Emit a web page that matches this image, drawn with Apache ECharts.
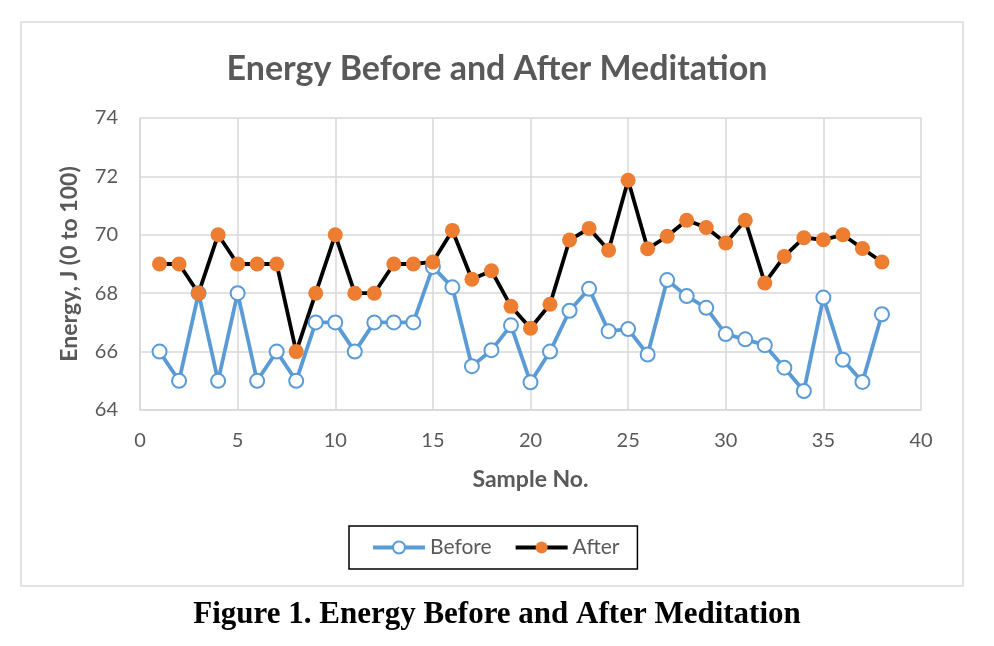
<!DOCTYPE html>
<html>
<head>
<meta charset="utf-8">
<script src="https://cdn.jsdelivr.net/npm/echarts@6/dist/echarts.min.js"></script>
<style>
html,body{margin:0;padding:0;background:#fff;}
#chart{width:994px;height:646px;}
</style>
</head>
<body>
<div id="chart"></div>
<script>
const samples = [1,2,3,4,5,6,7,8,9,10,11,12,13,14,15,16,17,18,19,20,21,22,23,24,25,26,27,28,29,30,31,32,33,34,35,36,37,38];
const before = [66,65,68,65,68,65,66,65,67,67,66,67,67,67,68.9,68.2,65.5,66.05,66.9,64.95,66.0,67.4,68.15,66.7,66.77,65.9,68.45,67.9,67.5,66.6,66.42,66.22,65.45,64.65,67.85,65.72,64.96,67.28];
const after = [69,69,68,70,69,69,69,66,68,70,68,68,69,69,69.07,70.15,68.48,68.77,67.55,66.8,67.62,69.82,70.22,69.47,71.87,69.52,69.95,70.5,70.25,69.72,70.5,68.35,69.26,69.9,69.83,70.0,69.53,69.07];
const xTicks = {min:0, max:40, interval:5};
const yTicks = {min:64, max:74, interval:2};

const pair = (xs, ys) => xs.map((x, i) => [x, ys[i]]);
const font = 'Lato, "Open Sans", sans-serif';
const chart = echarts.init(document.getElementById('chart'), null, {renderer:'canvas'});
chart.setOption({
  animation:false,
  backgroundColor:'#fff',
  graphic:[{type:'rect', shape:{x:21, y:22, width:942, height:564}, style:{fill:'none', stroke:'#d9d9d9', lineWidth:1.5}, z:-1}],
  title:[
    {text:'Energy Before and After Meditation', left:'center', top:47,
     textStyle:{fontFamily:font, fontSize:34, fontWeight:'bold', color:'#595959'}},
    {text:'Figure 1. Energy Before and After Meditation', left:'center', top:594,
     textStyle:{fontFamily:'"Liberation Serif", "Times New Roman", serif', fontSize:31, fontWeight:'bold', color:'#000'}}
  ],
  grid:{left:140, right:73, top:118, bottom:236, containLabel:false},
  xAxis:{type:'value', min:xTicks.min, max:xTicks.max, interval:xTicks.interval,
    name:'Sample No.', nameLocation:'middle', nameGap:58,
    nameTextStyle:{fontFamily:font, fontSize:23, fontWeight:'bold', color:'#595959'},
    axisLine:{show:true, lineStyle:{color:'#d9d9d9', width:1.5}},
    axisTick:{show:false},
    axisLabel:{fontFamily:font, fontSize:20, color:'#595959', margin:21},
    splitLine:{show:true, lineStyle:{color:'#d9d9d9', width:1.5}}},
  yAxis:{type:'value', min:yTicks.min, max:yTicks.max, interval:yTicks.interval,
    name:'Energy, J (0 to 100)', nameLocation:'middle', nameGap:59,
    nameTextStyle:{fontFamily:font, fontSize:23, fontWeight:'bold', color:'#595959'},
    axisLine:{show:true, lineStyle:{color:'#d9d9d9', width:1.5}},
    axisTick:{show:false},
    axisLabel:{fontFamily:font, fontSize:20, color:'#595959', margin:22},
    splitLine:{show:true, lineStyle:{color:'#d9d9d9', width:1.5}}},
  legend:{left:349, top:526, padding:[11,18,11,22], itemGap:22, itemWidth:52, itemHeight:15,
    borderColor:'#000', borderWidth:1.5,
    lineStyle:{width:4},
    textStyle:{fontFamily:font, fontSize:21, color:'#595959', padding:[0,0,0,0]},
    data:['Before','After']},
  series:[
    {name:'Before', type:'line', data:pair(samples, before), symbol:'circle', symbolSize:14,
     lineStyle:{color:'#5b9bd5', width:3.8},
     itemStyle:{color:'#fff', borderColor:'#5b9bd5', borderWidth:2}},
    {name:'After', type:'line', data:pair(samples, after), symbol:'circle', symbolSize:15,
     lineStyle:{color:'#000', width:3.8},
     itemStyle:{color:'#ed7d31', borderWidth:0}}
  ]
});
</script>
</body>
</html>
